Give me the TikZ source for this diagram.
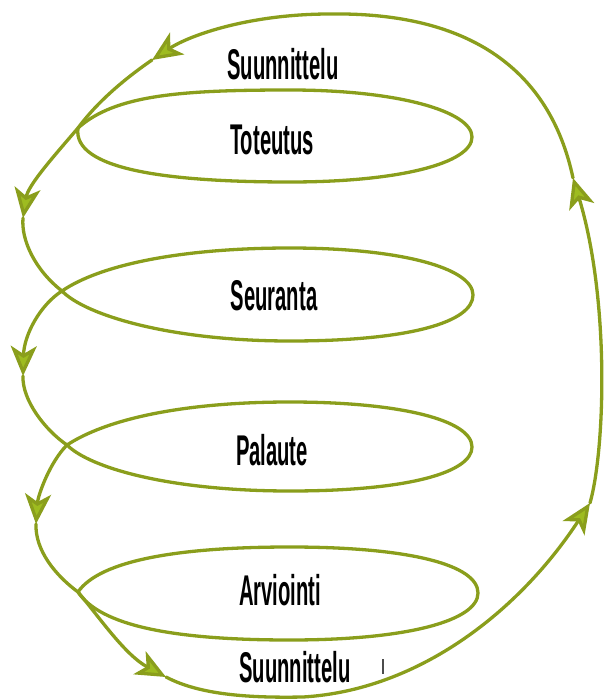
\documentclass[tikz,border=0pt]{standalone}
\usepackage{fontspec}
\setmainfont{Liberation Sans}
\usetikzlibrary{arrows.meta}
\definecolor{linegreen}{RGB}{138,158,28}
\definecolor{arrowgreen}{RGB}{158,188,32}
\newcommand\lbltext[1]{\scalebox{0.47}[1]{\fontsize{43}{45}\selectfont\bfseries #1}}
\begin{document}
\begin{tikzpicture}[x=1pt,y=-1pt,
  spiral/.style={draw=linegreen,line width=3.3pt,line cap=round},
  arrowend/.style={-{Stealth[length=30pt,width=26pt,inset=8pt,fill=arrowgreen]}},
  lbl/.style={inner sep=0pt,text=black}]
\useasboundingbox (0,0) rectangle (606,700);
% crossings and arrow tips
\coordinate (cT) at (78,128);
\coordinate (cS) at (62,291);
\coordinate (cP) at (67,445);
\coordinate (cA) at (78,592);
\coordinate (aTop) at (152,60);
\coordinate (aL1) at (23,218);
\coordinate (aL2) at (23,376);
\coordinate (aL3) at (36,524);
\coordinate (aB) at (166,677);
\coordinate (aR1) at (590,503);
\coordinate (aR2) at (573,178);
\coordinate (tickA) at (383,659);
\coordinate (tickB) at (383,674);
% labels
\node[lbl] (suun1) at (283,64) {\lbltext{Suunnittelu}};
\node[lbl] (tot) at (272,140) {\lbltext{Toteutus}};
\node[lbl] (seu) at (274,296) {\lbltext{Seuranta}};
\node[lbl] (pal) at (272,450) {\lbltext{Palaute}};
\node[lbl] (arv) at (280,590) {\lbltext{Arviointi}};
\node[lbl] (suun2) at (295,667) {\lbltext{Suunnittelu}};
% Toteutus loop
\draw[spiral] (cT) .. controls (115,95) and (180,90) .. (290,90)
  .. controls (400,90) and (472,112) .. (472,137)
  .. controls (472,163) and (400,182) .. (290,182)
  .. controls (170,182) and (72,170) .. (cT);
% Arviointi loop
\draw[spiral] (cA) .. controls (100,560) and (180,547) .. (290,547)
  .. controls (410,547) and (478,565) .. (478,593)
  .. controls (478,620) and (410,640) .. (290,640)
  .. controls (170,640) and (100,625) .. (cA);
% top arc
\draw[spiral,arrowend] (aR2) .. controls (550,70) and (470,12) .. (330,14)
  .. controls (250,14) and (190,35) .. (aTop);
% left descent to first left arrow
\draw[spiral,arrowend] (aTop) .. controls (120,82) and (95,105) .. (cT)
  .. controls (55,155) and (28,185) .. (aL1);
% Seuranta loop
\draw[spiral,arrowend] (aL1) .. controls (21,240) and (35,270) .. (cS)
  .. controls (85,315) and (170,341) .. (290,341)
  .. controls (410,341) and (473,322) .. (473,295)
  .. controls (473,268) and (400,248) .. (290,248)
  .. controls (180,248) and (100,265) .. (cS)
  .. controls (40,305) and (24,335) .. (aL2);
% Palaute loop
\draw[spiral,arrowend] (aL2) .. controls (22,400) and (45,430) .. (cP)
  .. controls (90,468) and (170,491) .. (290,491)
  .. controls (410,491) and (472,472) .. (472,447)
  .. controls (472,420) and (400,402) .. (290,402)
  .. controls (180,402) and (105,420) .. (cP)
  .. controls (50,462) and (38,495) .. (aL3);
% down to bottom arrow
\draw[spiral,arrowend] (aL3) .. controls (35,550) and (55,575) .. (cA)
  .. controls (100,618) and (125,655) .. (aB);
% bottom arc to right
\draw[spiral,arrowend] (aB) .. controls (200,695) and (250,698) .. (303,697)
  .. controls (420,690) and (520,610) .. (aR1);
% right side up
\draw[spiral,arrowend] (aR1) .. controls (605,450) and (610,300) .. (aR2);
% small tick
\draw[line width=1.2pt,black!70] (tickA) -- (tickB);
\end{tikzpicture}
\end{document}
